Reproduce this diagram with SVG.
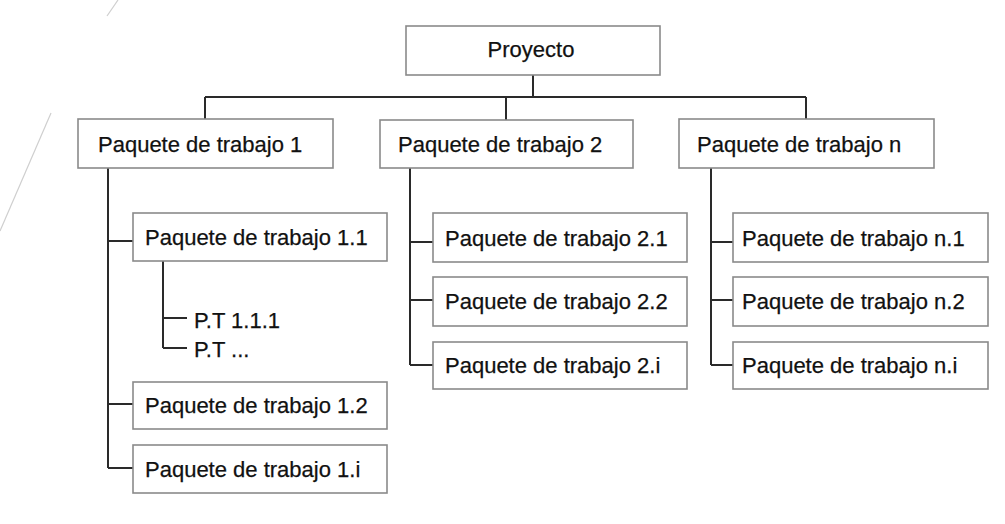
<svg xmlns="http://www.w3.org/2000/svg" width="1005" height="524" viewBox="0 0 1005 524">
<style>
.box{fill:#fff;stroke:#8a8a8a;stroke-width:1.6}
.t{font-family:"Liberation Sans",Arial,sans-serif;font-size:22px;fill:#111;stroke:#111;stroke-width:0.25}
.c{fill:none;stroke:#2a2a2a;stroke-width:2}
.deco{fill:none;stroke:#cfcfcf;stroke-width:1.2}
</style>
<rect width="1005" height="524" fill="#fff"/>
<line class="deco" x1="118" y1="0" x2="107" y2="16"/>
<line class="deco" x1="51" y1="113" x2="0" y2="231"/>
<g id="connectors">
<path class="c" d="M533 75V97M205 97H806M205 97V119M506 97V120M806 97V119"/>
<path class="c" d="M108 168V468M108 241H133M108 404H133M108 468H133"/>
<path class="c" d="M163 261V348M163 318H187M163 348H187"/>
<path class="c" d="M410 168V365M410 242H433M410 300H433M410 365H433"/>
<path class="c" d="M711 168V365M711 242H733M711 300H733M711 365H733"/>
</g>
<g id="proyecto"><rect class="box" x="406" y="26" width="254" height="49"/><text class="t" x="531" y="57" text-anchor="middle">Proyecto</text></g>
<g id="pt1"><rect class="box" x="78" y="119" width="255" height="49"/><text class="t" x="98" y="152">Paquete de trabajo 1</text></g>
<g id="pt2"><rect class="box" x="380" y="120" width="253" height="48"/><text class="t" x="398" y="152">Paquete de trabajo 2</text></g>
<g id="ptn"><rect class="box" x="679" y="119" width="255" height="49"/><text class="t" x="697" y="152">Paquete de trabajo n</text></g>
<g id="pt11"><rect class="box" x="133" y="213" width="254" height="48"/><text class="t" x="145" y="245">Paquete de trabajo 1.1</text></g>
<g id="pt111"><text class="t" x="194" y="328">P.T 1.1.1</text></g>
<g id="ptdots"><text class="t" x="194" y="357">P.T ...</text></g>
<g id="pt12"><rect class="box" x="133" y="382" width="254" height="47"/><text class="t" x="145" y="413">Paquete de trabajo 1.2</text></g>
<g id="pt1i"><rect class="box" x="133" y="445" width="254" height="48"/><text class="t" x="145" y="477">Paquete de trabajo 1.i</text></g>
<g id="pt21"><rect class="box" x="433" y="213" width="254" height="49"/><text class="t" x="445" y="246">Paquete de trabajo 2.1</text></g>
<g id="pt22"><rect class="box" x="433" y="277" width="254" height="49"/><text class="t" x="445" y="309">Paquete de trabajo 2.2</text></g>
<g id="pt2i"><rect class="box" x="433" y="342" width="254" height="47"/><text class="t" x="445" y="373">Paquete de trabajo 2.i</text></g>
<g id="ptn1"><rect class="box" x="733" y="213" width="255" height="49"/><text class="t" x="742" y="246">Paquete de trabajo n.1</text></g>
<g id="ptn2"><rect class="box" x="733" y="277" width="255" height="49"/><text class="t" x="742" y="309">Paquete de trabajo n.2</text></g>
<g id="ptni"><rect class="box" x="733" y="342" width="255" height="47"/><text class="t" x="742" y="373">Paquete de trabajo n.i</text></g>
</svg>
